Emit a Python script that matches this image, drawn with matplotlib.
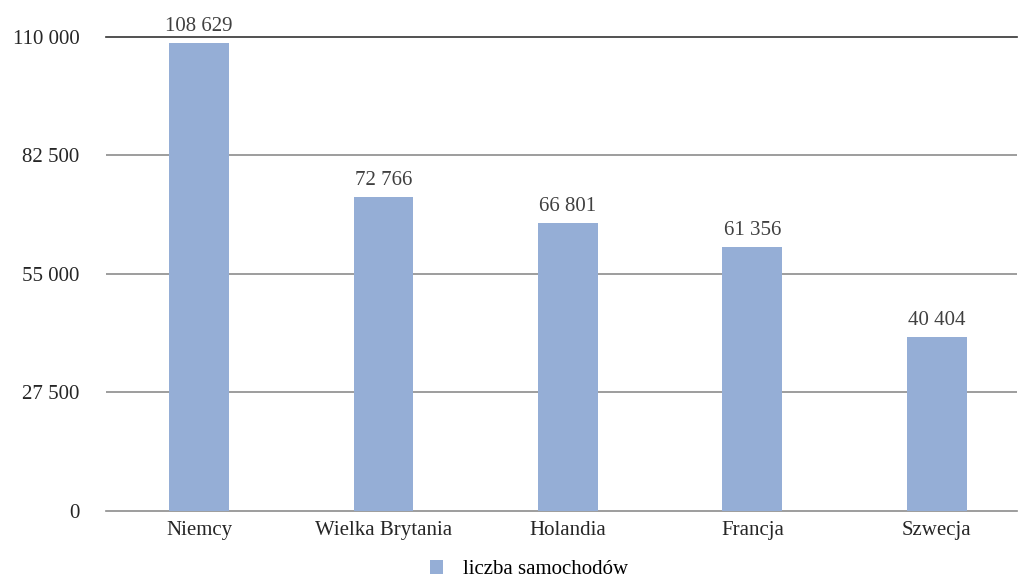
import matplotlib
matplotlib.use("Agg")
import matplotlib.pyplot as plt
from matplotlib.patches import Patch

categories = ["Niemcy", "Wielka Brytania", "Holandia", "Francja", "Szwecja"]
values = [108629, 72766, 66801, 61356, 40404]
yticks = [0, 27500, 55000, 82500, 110000]
series_name = "liczba samochodów"

def fmt(v):
    return f"{v:,}".replace(",", " ")

plt.rcParams['font.family'] = ['Liberation Serif', 'DejaVu Serif']

fig = plt.figure(figsize=(10.2, 5.78), dpi=100)
ax = fig.add_axes([0.104, 0.116, 0.893, 0.82])

color = "#95AED6"
x = list(range(len(categories)))
ax.bar(x, values, width=0.325, color=color, zorder=3)

ax.set_xlim(-0.504, 4.434)
ax.set_ylim(0, 110000)
ax.set_yticks(yticks)
ax.set_yticklabels([fmt(v) for v in yticks], fontsize=15, color="#262626")
ax.set_xticks(x)
ax.set_xticklabels(categories, fontsize=15, color="#262626")
ax.tick_params(axis="both", length=0)
ax.tick_params(axis="y", pad=19)
ax.tick_params(axis="x", pad=7)

for v in yticks[1:-1]:
    ax.axhline(v, color="#8c8c8c", linewidth=1.2, zorder=1)
ax.axhline(110000, color="#333333", linewidth=1.2, zorder=1, clip_on=False)

for s in ["top", "right", "left"]:
    ax.spines[s].set_visible(False)
ax.spines["bottom"].set_color("#8c8c8c")
ax.spines["bottom"].set_linewidth(1.2)

for xi, v in zip(x, values):
    ax.annotate(fmt(v), (xi, v), xytext=(0, 5), textcoords="offset points",
                ha="center", va="bottom", fontsize=15, color="#404040")

handles = [Patch(facecolor=color, label=series_name)]
fig.legend(handles=handles, loc="center", bbox_to_anchor=(0.519, 0.014),
           frameon=False, fontsize=15, handlelength=0.6, handleheight=0.6,
           handletextpad=1.0, borderpad=0.0)

fig.savefig("out.png", dpi=100)
